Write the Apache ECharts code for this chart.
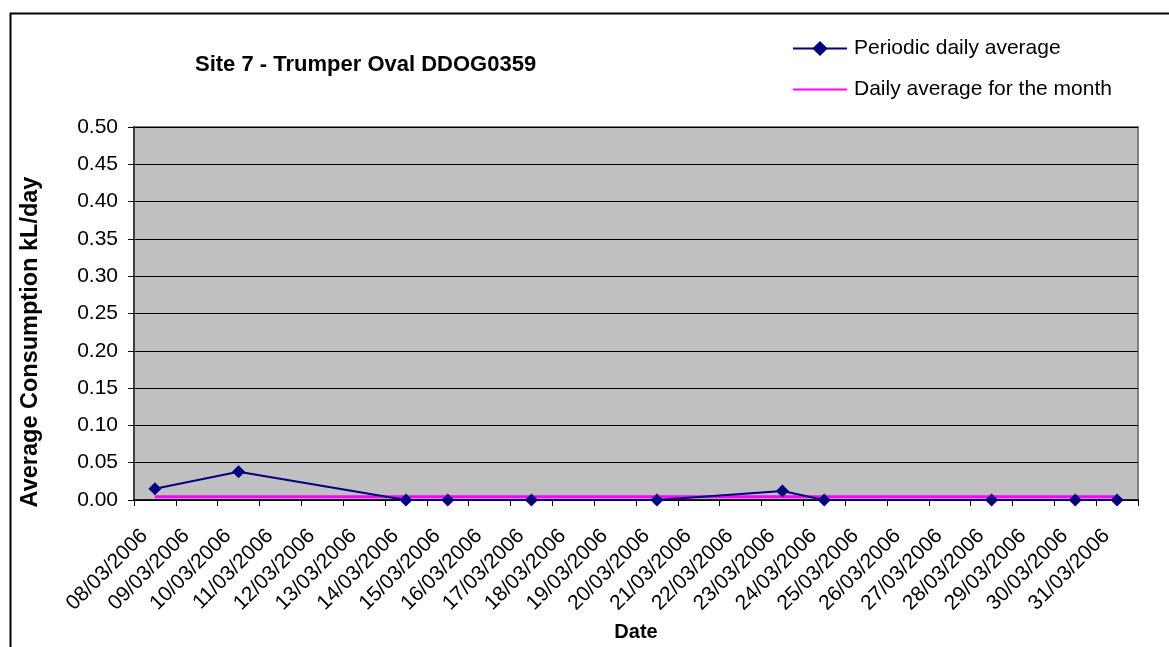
<!DOCTYPE html>
<html>
<head>
<meta charset="utf-8">
<title>Site 7 - Trumper Oval DDOG0359</title>
<script src="https://cdn.jsdelivr.net/npm/echarts@6/dist/echarts.min.js"></script>
<style>
  html, body { margin: 0; padding: 0; background: #ffffff; }
  #chart { width: 1169px; height: 647px; }
</style>
</head>
<body>
<div id="chart"></div>
<script>
// Reading dates (one category per day)
const dates = [
  '08/03/2006', '09/03/2006', '10/03/2006', '11/03/2006', '12/03/2006', '13/03/2006',
  '14/03/2006', '15/03/2006', '16/03/2006', '17/03/2006', '18/03/2006', '19/03/2006',
  '20/03/2006', '21/03/2006', '22/03/2006', '23/03/2006', '24/03/2006', '25/03/2006',
  '26/03/2006', '27/03/2006', '28/03/2006', '29/03/2006', '30/03/2006', '31/03/2006'
];

// Periodic daily average (kL/day); null = no meter reading that day
const periodicAvg = [
  0.015, null, 0.038, null, null, null,
  0, 0, null, 0, null, null,
  0, null, null, 0.012, 0, null,
  null, null, 0, null, 0, 0
];

// Daily average for the month (kL/day)
const monthAvg = [
  0.0045, 0.0045, 0.0045, 0.0045, 0.0045, 0.0045,
  0.0045, 0.0045, 0.0045, 0.0045, 0.0045, 0.0045,
  0.0045, 0.0045, 0.0045, 0.0045, 0.0045, 0.0045,
  0.0045, 0.0045, 0.0045, 0.0045, 0.0045, 0.0045
];

const FONT = '"Liberation Sans", Arial, sans-serif';

const chart = echarts.init(document.getElementById('chart'), null, { renderer: 'canvas' });

chart.setOption({
  backgroundColor: '#ffffff',
  animation: false,
  textStyle: { fontFamily: FONT, color: '#000' },
  title: {
    text: 'Site 7 - Trumper Oval DDOG0359',
    left: 190,
    top: 49,
    textStyle: { fontFamily: FONT, fontSize: 22, fontWeight: 'bold', color: '#000' }
  },
  legend: {
    orient: 'vertical',
    left: 787,
    top: 33,
    itemWidth: 54,
    itemHeight: 19,
    itemGap: 20,
    textStyle: { fontFamily: FONT, fontSize: 21, color: '#000', padding: [0, 0, 0, 2] },
    data: [
      { name: 'Periodic daily average' },
      { name: 'Daily average for the month', itemStyle: { opacity: 0 } }
    ]
  },
  grid: {
    left: 134,
    right: 31,
    top: 127,
    bottom: 146,
    show: true,
    backgroundColor: '#C0C0C0',
    borderColor: '#808080',
    borderWidth: 2
  },
  xAxis: {
    type: 'category',
    data: dates,
    boundaryGap: true,
    name: 'Date',
    nameLocation: 'middle',
    nameGap: 122,
    nameTextStyle: { fontFamily: FONT, fontSize: 20, fontWeight: 'bold', color: '#000' },
    axisLine: { show: true, onZero: false, lineStyle: { color: '#000', width: 1.5 } },
    axisTick: { show: true, interval: 0, alignWithLabel: false, length: 6, lineStyle: { color: '#000' } },
    axisLabel: {
      interval: 0,
      rotate: 45,
      margin: 22,
      padding: [0, 15, 0, 0],
      fontFamily: FONT,
      fontSize: 21,
      color: '#000'
    },
    splitLine: { show: false }
  },
  yAxis: {
    type: 'value',
    min: 0,
    max: 0.5,
    interval: 0.05,
    axisLine: { show: true, lineStyle: { color: '#404040', width: 2 } },
    axisTick: { show: true, length: 6, lineStyle: { color: '#000' } },
    axisLabel: {
      margin: 16,
      fontFamily: FONT,
      fontSize: 21,
      color: '#000',
      formatter: v => v.toFixed(2)
    },
    splitLine: { show: true, lineStyle: { color: '#000', width: 1 } }
  },
  series: [
    {
      name: 'Daily average for the month',
      type: 'line',
      data: monthAvg,
      symbol: 'none',
      lineStyle: { color: '#FF00FF', width: 3 },
      itemStyle: { color: '#FF00FF' },
      z: 2
    },
    {
      name: 'Periodic daily average',
      type: 'line',
      data: periodicAvg,
      connectNulls: true,
      symbol: 'diamond',
      symbolSize: 13,
      showAllSymbol: true,
      lineStyle: { color: '#000080', width: 2 },
      itemStyle: { color: '#000080' },
      z: 3
    }
  ],
  graphic: [
    {
      type: 'rect',
      left: 8,
      top: 11,
      shape: { x: 0, y: 0, width: 1300, height: 800 },
      style: { fill: 'none', stroke: '#000', lineWidth: 2 },
      silent: true,
      z: 100
    },
    {
      type: 'text',
      x: 31,
      y: 342,
      rotation: Math.PI / 2,
      style: {
        text: 'Average Consumption kL/day',
        fontFamily: FONT,
        fontSize: 23.5,
        fontWeight: 'bold',
        fill: '#000',
        align: 'center',
        verticalAlign: 'middle'
      }
    }
  ]
});
</script>
</body>
</html>
